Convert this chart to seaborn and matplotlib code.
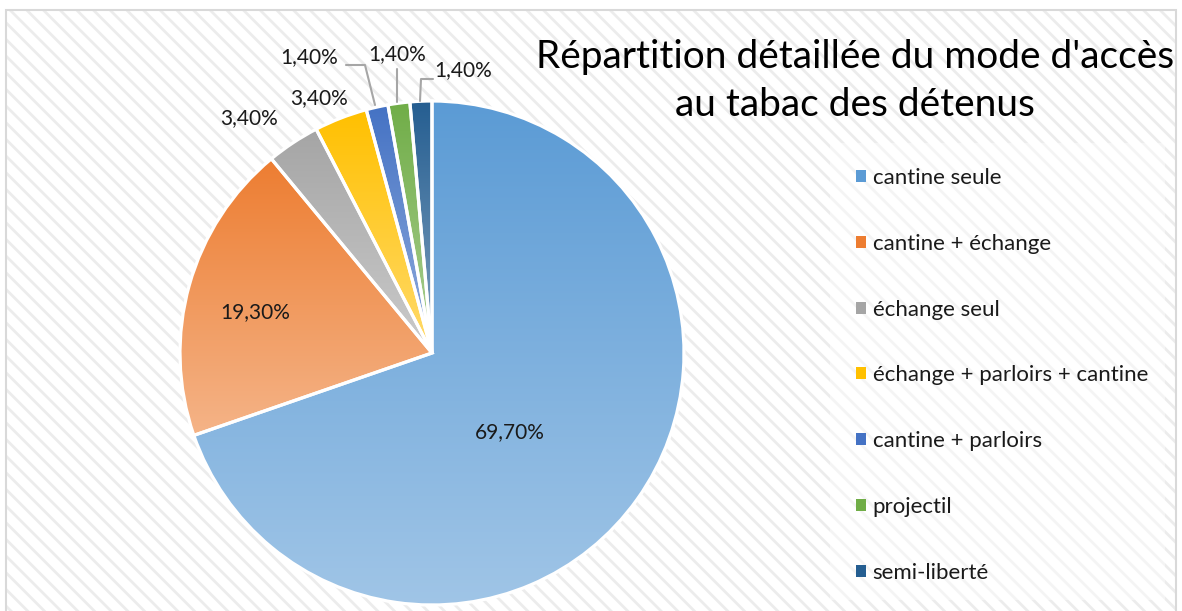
import matplotlib.pyplot as plt
import matplotlib.patches as mpatches
import matplotlib.colors as mcolors
import numpy as np
import seaborn as sns

# Données du graphique
categories = ["cantine seule", "cantine + échange", "échange seul",
              "échange + parloirs + cantine", "cantine + parloirs",
              "projectil", "semi-liberté"]
valeurs = [69.7, 19.3, 3.4, 3.4, 1.4, 1.4, 1.4]
etiquettes = ["69,70%", "19,30%", "3,40%", "3,40%", "1,40%", "1,40%", "1,40%"]
titre = "Répartition détaillée du mode d'accès\nau tabac des détenus"

couleurs = ["#5B9BD5", "#ED7D31", "#A5A5A5", "#FFC000", "#4472C4", "#70AD47", "#255E91"]

sns.set_theme(style="white")
plt.rcParams['font.family'] = ['Lato', 'DejaVu Sans']
plt.rcParams['hatch.linewidth'] = 2.0

W, H = 1182, 611
fig = plt.figure(figsize=(W / 100, H / 100), dpi=100)
ax = fig.add_axes([0, 0, 1, 1])

# fond hachuré avec bordure
fond = mpatches.Rectangle((6, -10), 1170, H - 10 + 10, facecolor="white",
                          edgecolor="#ececec", hatch="\\\\", linewidth=0, zorder=0)
ax.add_patch(fond)
ax.add_patch(mpatches.Rectangle((6, -10), 1170, H - 10 + 10, facecolor="none",
                                edgecolor="#d9d9d9", linewidth=1.5, zorder=0.5))
# zone de légende un peu plus claire
ax.add_patch(mpatches.Rectangle((830, 11), 335, 457, facecolor="white",
                                alpha=0.45, linewidth=0, zorder=0.6))

# camembert
wedges, _ = ax.pie(valeurs, startangle=90, counterclock=False,
                   center=(432, H - 353), radius=252,
                   colors=couleurs,
                   wedgeprops=dict(edgecolor="white", linewidth=2.3))

# dégradé vertical dans chaque part
for w, c in zip(wedges, couleurs):
    ext = w.get_path().get_extents()
    haut = np.array(mcolors.to_rgba(c))
    bas = haut.copy()
    bas[:3] = haut[:3] + (1 - haut[:3]) * 0.42
    t = np.linspace(0, 1, 256)[:, None]
    grad = (haut[None, :] * (1 - t) + bas[None, :] * t)[:, None, :]
    im = ax.imshow(grad, extent=(ext.x0, ext.x1, ext.y0, ext.y1),
                   origin="upper", aspect="auto", zorder=1, interpolation="bilinear")
    im.set_clip_path(w)
    w.set_facecolor("none")
    w.set_zorder(2)

# étiquettes de données
pos_etiquettes = [(510, 432), (255, 312), (249, 118), (319, 98),
                  (309, 57), (397, 54), (463, 70)]
for txt, (x, y) in zip(etiquettes, pos_etiquettes):
    ax.text(x, H - y, txt, ha="center", va="center", fontsize=15, color="#1a1a1a", zorder=3)

# traits de rappel
traits = [[(375, 105), (365, 65), (346, 65)],
          [(397, 102), (397, 69)],
          [(420, 101), (421, 79), (433, 79)]]
for tr in traits:
    xs = [p[0] for p in tr]
    ys = [H - p[1] for p in tr]
    ax.plot(xs, ys, color="#a6a6a6", linewidth=1.5, zorder=3)

# titre
ax.text(855, H - 57, titre.split("\n")[0], ha="center", va="center", fontsize=28,
        color="#000000", zorder=3)
ax.text(855, H - 105, titre.split("\n")[1], ha="center", va="center", fontsize=28,
        color="#000000", zorder=3)

# légende
poignees = [mpatches.Patch(facecolor=c, edgecolor="none") for c in couleurs]
leg = ax.legend(poignees, categories, loc="upper left",
                bbox_to_anchor=(836 / W, 1 - 148 / H), frameon=False,
                fontsize=16, handlelength=0.45, handleheight=0.45,
                handletextpad=0.3, labelspacing=2.06)
for t in leg.get_texts():
    t.set_color("#1a1a1a")

ax.set_xlim(0, W)
ax.set_ylim(0, H)
ax.axis("off")

fig.savefig("out.png", dpi=100, facecolor="white")
